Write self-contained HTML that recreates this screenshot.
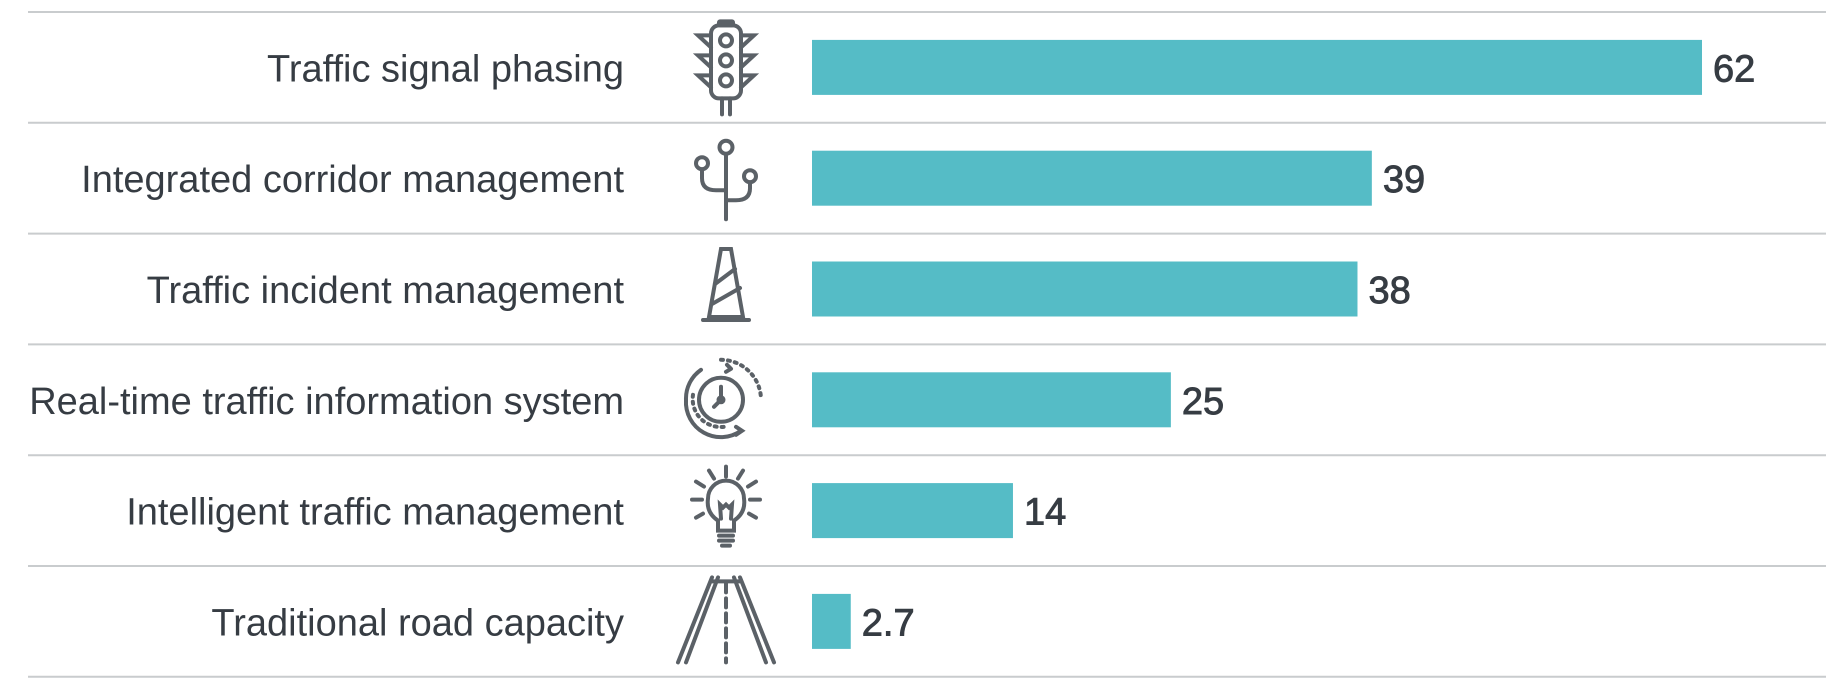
<!DOCTYPE html>
<html><head><meta charset="utf-8"><style>
html,body{margin:0;padding:0;background:#fff;}
svg{display:block;}
text{font-family:"Liberation Sans",sans-serif;fill:#363c43;}
</style></head><body>
<svg id="chart" width="1844" height="690" viewBox="0 0 1844 690" xmlns="http://www.w3.org/2000/svg">
<g id="grid"></g><g id="bars"></g><g id="icons" fill="none" stroke="#5b6167" stroke-width="4" stroke-linecap="round"></g>
</svg>
<script>
const categories = ["Traffic signal phasing","Integrated corridor management","Traffic incident management","Real-time traffic information system","Intelligent traffic management","Traditional road capacity"];
const values = [62,39,38,25,14,2.7];
const valueLabels = ["62","39","38","25","14","2.7"];
const NS="http://www.w3.org/2000/svg";
const x0=812, pxPerUnit=(1702-812)/62, rowTop=12, rowH=110.8;
const xScale=v=>x0+v*pxPerUnit;
const yRow=i=>rowTop+i*rowH;
function mk(tag,attrs,parent){const e=document.createElementNS(NS,tag);for(const k in attrs)e.setAttribute(k,attrs[k]);parent.appendChild(e);return e;}
const grid=document.getElementById('grid'),bars=document.getElementById('bars'),icons=document.getElementById('icons');
for(let i=0;i<=categories.length;i++){
  const l=mk('line',{x1:28,x2:1826,y1:yRow(i),y2:yRow(i),stroke:'#c9ccce','stroke-width':2},grid);
  
  
}
categories.forEach((c,i)=>{
  const cy=yRow(i)+rowH/2;
  const t=mk('text',{x:624,y:cy+14,'text-anchor':'end','font-size':38},bars);t.textContent=c;
  
  
  const r=mk('rect',{x:x0,y:cy-27.5,width:xScale(values[i])-x0,height:55,fill:'#55bcc6'},bars);
  
  
  const v=mk('text',{x:xScale(values[i])+11,y:cy+14,'font-size':38,stroke:'#363c43','stroke-width':0.9},bars);v.textContent=valueLabels[i];
  
  
});
const iconSvg=[
 `<rect x="-15" y="-42" width="30" height="73" rx="8"/><rect x="-7" y="-46" width="14" height="4" rx="1"/>
  <circle cx="0" cy="-27" r="6"/><circle cx="0" cy="-7" r="6"/><circle cx="0" cy="13" r="6"/>
  <path d="M-15 -32 H-28 L-15 -20 M15 -32 H28 L15 -20 M-15 -12 H-28 L-15 0 M15 -12 H28 L15 0 M-15 8 H-28 L-15 20 M15 8 H28 L15 20"/>
  <path d="M-4 31 V47 M4 31 V47"/>`,
 `<circle cx="0" cy="-31" r="6.5"/><path d="M0 -24 V41"/><circle cx="-24" cy="-15" r="6"/><path d="M-24 -9 V0 Q-24 12 -10 12 H0"/>
  <circle cx="24" cy="-2" r="6"/><path d="M24 4 V10 Q24 22 10 22 H0"/>`,
 `<path d="M-5 -40 H5 L17 28 H-17 Z"/><path d="M-23 31 H23 M-11 -5 L9 -20 M-14 15 L14 -1"/>`,
 `<circle cx="-5" cy="0" r="22"/><path d="M-5 -13 V0 L-12 7"/><circle cx="-5" cy="0" r="2.5"/>
  <path d="M-5 -40 A40 40 0 0 1 35 0" stroke-dasharray="2 5"/><path d="M-40 0 A35 35 0 0 0 15 31"/><path d="M10 27 L16 31 L10 35"/>
  <path d="M-33 -5 A28 28 0 0 0 -2 27" stroke-dasharray="2 5"/><path d="M5 -31 L1 -35 M5 -31 L0 -28"/><path d="M-40 0 A35 35 0 0 1 -25 -30"/>`,
 `<path d="M-8 20 V10 Q-20 2 -18 -12 A18 18 0 0 1 18 -12 Q20 2 8 10 V20 Z"/><path d="M-5 8 L-6 -6 L-3 -3 L0 -6 L3 -3 L6 -6 L5 8"/>
  <path d="M-7 25 H7 M-7 30 H7 M-4 35 H4"/><path d="M0 -44 V-34 M-17 -40 L-12 -32 M17 -40 L12 -32 M-30 -29 L-22 -24 M30 -29 L22 -24 M-34 -11 H-24 M34 -11 H24 M-30 7 L-23 3 M30 7 L23 3"/>`,
 `<path d="M-14 -44 L-48 41 M-8 -44 L-40 41 M14 -44 L48 41 M8 -44 L40 41 M-14 -40 H14"/><path d="M0 -38 V41" stroke-dasharray="9 6"/>`
];
iconSvg.forEach((s,i)=>{
  const g=mk('g',{transform:`translate(726,${yRow(i)+rowH/2})`},icons);g.innerHTML=s;
  
  
});
</script>
</body></html>
